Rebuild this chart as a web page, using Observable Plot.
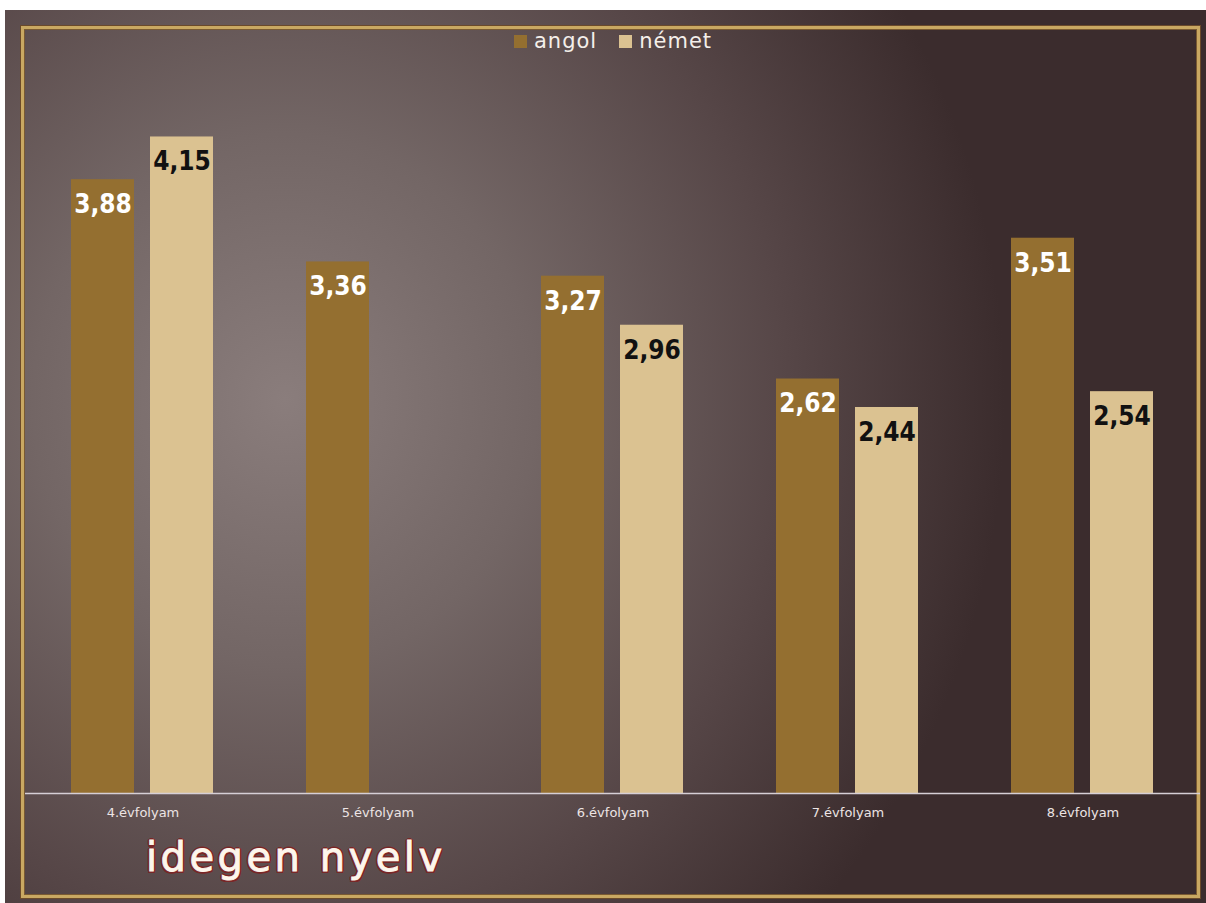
<!DOCTYPE html>
<html>
<head>
<meta charset="utf-8">
<script src="https://cdn.jsdelivr.net/npm/d3@7"></script>
<script src="https://cdn.jsdelivr.net/npm/@observablehq/plot@0.6"></script>
<style>
  html, body { margin: 0; padding: 0; background: #ffffff; width: 1206px; height: 903px; overflow: hidden; }
  #bg { position: absolute; left: 5px; top: 10px; width: 1201px; height: 893px;
        background: radial-gradient(ellipse 720px 760px at 280px 390px, #8a7d7c 0%, #736665 35%, #564647 70%, #3b2c2d 100%); }
  #frame { position: absolute; left: 21px; top: 26px; width: 1173px; height: 866px;
           border: 3px solid #c9a862; box-shadow: 0 0 0 1px #6b4a2a, inset 0 0 0 1px #7a5a32; }
  #chart { position: absolute; left: 0; top: 0; }
  #chart svg g[aria-label="fx-axis tick label"] text { font-size: 13px; font-family: "DejaVu Sans", sans-serif; }
  #legend { position: absolute; top: 29px; left: 514px; white-space: nowrap;
            font-family: "DejaVu Sans", sans-serif; font-size: 21px; letter-spacing: 1px; color: #f4efea; }
  #legend span.sw { display: inline-block; width: 13px; height: 13px; margin-right: 7px; vertical-align: 0px; }
  #legend span.item { margin-right: 22px; }
  #title { position: absolute; left: 146px; top: 834px; font-family: "DejaVu Sans", sans-serif;
           font-size: 40px; letter-spacing: 3.5px; color: #fdf6ec;
           -webkit-text-stroke: 0.9px #fdf6ec;
           text-shadow: 1.5px 1.5px 0 #7a2626, -1.5px -1.5px 0 #7a2626, 1.5px -1.5px 0 #7a2626, -1.5px 1.5px 0 #7a2626,
                        0 2px 0 #7a2626, 0 -2px 0 #7a2626, 2px 0 0 #7a2626, -2px 0 0 #7a2626; }
</style>
</head>
<body>
<div id="bg"></div>
<div id="frame"></div>
<div id="chart"></div>
<div id="legend"></div>
<div id="title">idegen nyelv</div>
<script>
const categories = ["4.évfolyam", "5.évfolyam", "6.évfolyam", "7.évfolyam", "8.évfolyam"];
const series = ["angol", "német"];
const angol = [3.88, 3.36, 3.27, 2.62, 3.51];
const nemet = [4.15, null, 2.96, 2.44, 2.54];
const colors = ["#946f30", "#dbc291"];
const labelColors = ["#ffffff", "#111111"];

const data = [];
categories.forEach((c, i) => {
  if (angol[i] != null) data.push({grade: c, lang: series[0], value: angol[i]});
  if (nemet[i] != null) data.push({grade: c, lang: series[1], value: nemet[i]});
});
const fmt = v => v.toFixed(2).replace(".", ",");

const chart = Plot.plot({
  width: 1206,
  height: 903,
  marginLeft: 25,
  marginRight: 6,
  marginTop: 2,
  marginBottom: 110,
  style: {background: "transparent", color: "#ece4e4", fontFamily: "'DejaVu Sans', sans-serif", fontSize: "13px"},
  fx: {domain: categories, padding: 0, label: null, axis: "bottom", tickSize: 0, tickPadding: 14},
  x: {domain: series, axis: null, paddingInner: 0.2025, paddingOuter: 0.582},
  y: {domain: [0, 5], axis: null},
  color: {domain: series, range: colors},
  marks: [
    Plot.barY(data, {fx: "grade", x: "lang", y: "value", fill: "lang"}),
    Plot.ruleY([0], {stroke: "#d6cfd6", strokeWidth: 1.5}),
    ...series.map((s, k) => Plot.text(data.filter(d => d.lang === s), {
      fx: "grade", x: "lang", y: "value", text: d => fmt(d.value),
      dy: 25, fill: labelColors[k], fontSize: 26, fontWeight: "bold",
      fontFamily: "'DejaVu Sans Condensed', 'DejaVu Sans', sans-serif"
    }))
  ]
});
document.getElementById("chart").appendChild(chart);

const legend = document.getElementById("legend");
series.forEach((s, k) => {
  const item = document.createElement("span");
  item.className = "item";
  const sw = document.createElement("span");
  sw.className = "sw";
  sw.style.background = colors[k];
  item.appendChild(sw);
  item.appendChild(document.createTextNode(s));
  legend.appendChild(item);
});
</script>
</body>
</html>
